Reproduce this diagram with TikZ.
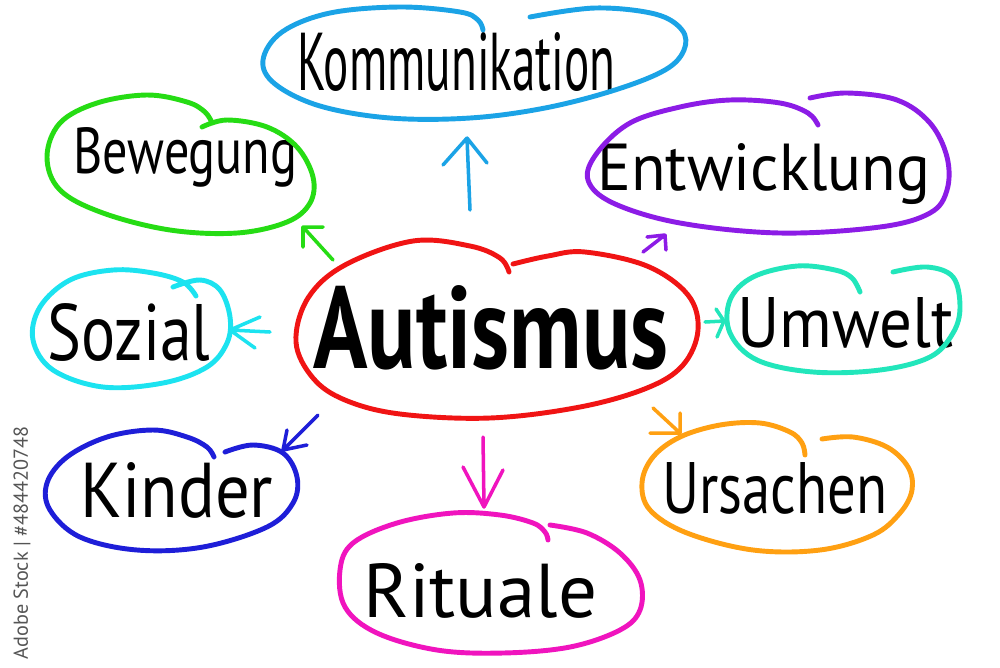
\documentclass[tikz,border=0pt]{standalone}
\usepackage{fontspec}
\setmainfont{PT Sans}
\usepackage{graphicx}
\definecolor{cRed}{HTML}{F01414}
\definecolor{cKom}{HTML}{1BA3E6}
\definecolor{cGreen}{HTML}{26DC14}
\definecolor{cPurple}{HTML}{8C1CE6}
\definecolor{cCyan}{HTML}{1CE3F0}
\definecolor{cTeal}{HTML}{22E6BB}
\definecolor{cBlue}{HTML}{1E1ED8}
\definecolor{cOrange}{HTML}{FFA012}
\definecolor{cMagenta}{HTML}{F014BE}
\definecolor{cMark}{HTML}{555555}
\begin{document}
\begin{tikzpicture}[x=0.02cm,y=-0.02cm,
  outline/.style={line width=2.8pt, line cap=round, line join=round, smooth, tension=0.6},
  arr/.style={line width=2pt, line cap=round, line join=round},
  word/.style={anchor=base west, inner sep=0pt, text=black, font=\fontsize{20pt}{24pt}\selectfont}]
\fill[white] (0,0) rectangle (1000,667);
\useasboundingbox (0,0) rectangle (1000,667);

% ---- words ----
\node[word, font=\fontsize{20pt}{24pt}\selectfont\bfseries] (aut)  at (313,368) {\resizebox{7.10cm}{1.66cm}{Autismus}};
\node[word] (kom)  at (297,90)  {\resizebox{6.36cm}{1.16cm}{Kommunikation}};
\node[word] (bew)  at (73,173)  {\resizebox{4.48cm}{0.92cm}{Bewegung}};
\node[word] (ent)  at (597,190) {\resizebox{6.66cm}{0.94cm}{Entwicklung}};
\node[word] (soz)  at (47,360)  {\resizebox{3.26cm}{1.14cm}{Sozial}};
\node[word] (umw)  at (737,347) {\resizebox{4.32cm}{1.00cm}{Umwelt}};
\node[word] (kin)  at (80,517)  {\resizebox{3.86cm}{1.10cm}{Kinder}};
\node[word] (urs)  at (662,513) {\resizebox{4.50cm}{1.02cm}{Ursachen}};
\node[word] (rit)  at (363,617) {\resizebox{4.68cm}{1.08cm}{Rituale}};

% ---- hand-drawn outlines ----
\draw[outline, cRed] plot coordinates {(513,264) (548,256) (585,252) (647,266) (688,295) (698,330) (683,365) (647,388) (580,407) (490,418) (400,414) (345,400) (313,378) (296,342) (308,298) (345,265) (413,241) (470,246) (500,258) (509,272)};
\draw[outline, cKom] plot coordinates {(530,17) (595,8) (655,14) (682,30) (684,50) (665,70) (615,90) (545,108) (470,118) (390,118) (320,106) (275,84) (263,60) (282,32) (330,13) (400,7) (460,12) (478,20) (483,30)};
\draw[outline, cGreen] plot coordinates {(202,127) (227,120) (267,127) (297,147) (313,177) (310,203) (287,222) (237,233) (170,230) (103,213) (60,190) (47,157) (60,123) (97,103) (147,95) (187,102) (205,112) (212,123)};
\draw[outline, cCyan] plot coordinates {(173,287) (200,280) (220,290) (230,317) (227,343) (207,367) (163,383) (103,387) (53,370) (33,340) (40,307) (70,280) (113,270) (153,273) (183,282) (196,296)};
\draw[outline, cPurple] plot coordinates {(810,98) (847,93) (897,100) (930,123) (947,157) (947,190) (930,213) (880,227) (780,233) (680,223) (613,203) (588,180) (597,153) (630,123) (680,107) (730,100) (780,103) (808,113) (818,125)};
\draw[outline, cTeal] plot coordinates {(893,272) (927,267) (953,277) (960,307) (953,333) (930,357) (880,370) (813,372) (757,360) (730,333) (730,300) (753,277) (797,266) (835,270) (852,278) (860,292)};
\draw[outline, cBlue] plot coordinates {(225,452) (253,445) (283,453) (297,477) (293,503) (267,527) (203,547) (137,550) (80,537) (50,510) (47,483) (67,457) (107,437) (153,430) (187,437) (207,447) (214,457)};
\draw[outline, cOrange] plot coordinates {(822,439) (853,437) (887,447) (908,467) (912,490) (900,513) (873,535) (820,550) (753,550) (687,533) (650,510) (642,483) (653,457) (680,437) (720,425) (760,423) (790,432) (802,443) (805,455)};
\draw[outline, cMagenta] plot coordinates {(550,525) (587,533) (620,553) (640,580) (640,610) (620,630) (570,647) (503,653) (437,650) (377,633) (345,607) (340,570) (353,543) (397,523) (453,513) (500,515) (533,523) (545,532) (548,540)};

% ---- arrows ----
\coordinate (komS) at (470,210); \coordinate (komT) at (467,138);
\coordinate (bewS) at (333,260); \coordinate (bewT) at (303,227);
\coordinate (entS) at (643,252); \coordinate (entT) at (665,235);
\coordinate (sozS) at (270,332); \coordinate (sozT) at (230,330);
\coordinate (umwS) at (705,322); \coordinate (umwT) at (724,321);
\coordinate (kinS) at (318,415); \coordinate (kinT) at (283,450);
\coordinate (ursS) at (653,408); \coordinate (ursT) at (680,433);
\coordinate (ritS) at (483,437); \coordinate (ritT) at (484,507);

\draw[arr, cKom]     (komS) -- (komT) -- +(-24,27) (komT) -- +(20,25);
\draw[arr, cGreen]   (bewS) -- (bewT) -- +(20,0)   (bewT) -- +(0,20);
\draw[arr, cPurple]  (entS) -- (entT) -- +(-18,2)  (entT) -- +(1,15);
\draw[arr, cCyan]    (sozS) -- (sozT) -- +(30,-13) (sozT) -- +(25,18);
\draw[arr, cTeal]    (umwS) -- (umwT) -- +(-8,-12) (umwT) -- +(-7,16);
\draw[arr, cBlue]    (kinS) -- (kinT) -- +(4,-20)  (kinT) -- +(24,-5);
\draw[arr, cOrange]  (ursS) -- (ursT) -- +(-30,0)  (ursT) -- +(0,-20);
\draw[arr, cMagenta] (ritS) -- (ritT) -- +(-21,-40) (ritT) -- +(19,-37);

% ---- side mark ----
\node[rotate=90, text=cMark, inner sep=0pt, font=\fontsize{11.5pt}{14pt}\selectfont] (mark) at (22,543) {Adobe Stock | \#484420748};
\end{tikzpicture}
\end{document}
